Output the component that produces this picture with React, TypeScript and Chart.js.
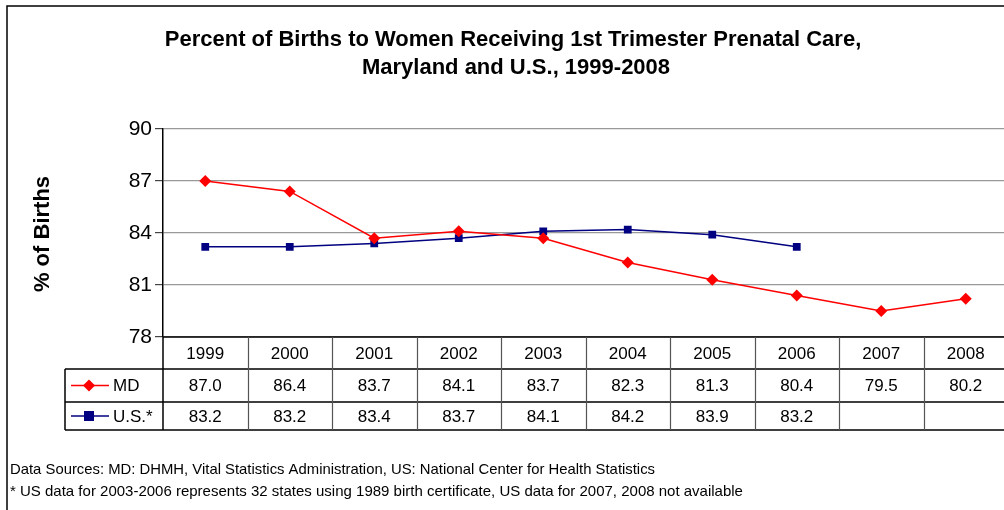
import React, { useEffect, useRef } from "react";
import { Chart, registerables } from "chart.js";

Chart.register(...registerables);

const YEARS = ["1999", "2000", "2001", "2002", "2003", "2004", "2005", "2006", "2007", "2008"];
const MD_VALUES: (number | null)[] = [87.0, 86.4, 83.7, 84.1, 83.7, 82.3, 81.3, 80.4, 79.5, 80.2];
const US_VALUES: (number | null)[] = [83.2, 83.2, 83.4, 83.7, 84.1, 84.2, 83.9, 83.2, null, null];
const SERIES_LABELS = ["MD", "U.S.*"];
const TITLE_LINES = [
  "Percent of Births to Women Receiving 1st Trimester Prenatal Care,",
  "Maryland and U.S., 1999-2008",
];
const Y_TITLE = "% of Births";
const FOOTNOTES = [
  "Data Sources: MD: DHMH, Vital Statistics Administration, US: National Center for Health Statistics",
  "* US data for 2003-2006 represents 32 states using 1989 birth certificate, US data for 2007, 2008 not available",
];
const Y_MIN = 78;
const Y_MAX = 90;
const Y_STEP = 3;

const FONT = "'Liberation Sans', Arial, sans-serif";
const CANVAS_W = 1016;

const tablePlugin = {
  id: "tablePlugin",
  beforeDraw(chart: any) {
    const ctx = chart.ctx as CanvasRenderingContext2D;
    ctx.save();
    ctx.fillStyle = "#ffffff";
    ctx.fillRect(0, 0, chart.width, chart.height);
    ctx.strokeStyle = "#000";
    ctx.lineWidth = 1.5;
    ctx.beginPath();
    ctx.moveTo(7, chart.height);
    ctx.lineTo(7, 6);
    ctx.lineTo(chart.width, 6);
    ctx.stroke();
    ctx.restore();
  },
  afterDraw(chart: any) {
    const ctx = chart.ctx as CanvasRenderingContext2D;
    const area = chart.chartArea;
    const xs = chart.scales.x;
    const n = YEARS.length;
    const colW = (area.right - area.left) / n;
    const top = area.bottom;
    const rowH = [32, 33, 28];
    const r1 = top + rowH[0];
    const r2 = r1 + rowH[1];
    const r3 = r2 + rowH[2];
    const legLeft = 65;
    ctx.save();

    // title
    ctx.fillStyle = "#000";
    ctx.textAlign = "center";
    ctx.textBaseline = "middle";
    ctx.font = `bold 22px ${FONT}`;
    ctx.fillText(TITLE_LINES[0], 513, 40, 697);
    ctx.fillText(TITLE_LINES[1], 516, 68);

    // y title
    ctx.save();
    ctx.translate(43, 234);
    ctx.rotate(-Math.PI / 2);
    ctx.font = `bold 22px ${FONT}`;
    ctx.fillText(Y_TITLE, 0, 0);
    ctx.restore();

    // table lines
    ctx.lineWidth = 1.5;
    ctx.strokeStyle = "#000";
    ctx.beginPath();
    ctx.moveTo(area.left, top);
    ctx.lineTo(chart.width, top);
    ctx.moveTo(legLeft, r1);
    ctx.lineTo(chart.width, r1);
    ctx.moveTo(legLeft, r2);
    ctx.lineTo(chart.width, r2);
    ctx.moveTo(legLeft, r3);
    ctx.lineTo(chart.width, r3);
    ctx.moveTo(legLeft, r1);
    ctx.lineTo(legLeft, r3);
    ctx.moveTo(area.left, top);
    ctx.lineTo(area.left, r3);
    ctx.stroke();

    ctx.strokeStyle = "#555";
    ctx.lineWidth = 1.2;
    ctx.beginPath();
    for (let i = 1; i <= n; i++) {
      const x = Math.round(area.left + colW * i) + 0.5;
      ctx.moveTo(x, top);
      ctx.lineTo(x, r3);
    }
    ctx.stroke();

    // cell text
    ctx.fillStyle = "#000";
    ctx.font = `17px ${FONT}`;
    ctx.textAlign = "center";
    const rowsData = [MD_VALUES, US_VALUES];
    for (let i = 0; i < n; i++) {
      const cx = xs.getPixelForValue(i);
      ctx.fillText(YEARS[i], cx, top + rowH[0] / 2 + 1);
      rowsData.forEach((arr, k) => {
        const v = arr[i];
        if (v == null) return;
        const cy = k === 0 ? r1 + rowH[1] / 2 : r2 + rowH[2] / 2;
        ctx.fillText(v.toFixed(1), cx, cy + 1);
      });
    }

    // legend keys
    const colors = ["#ff0000", "#000080"];
    const keyY = [r1 + rowH[1] / 2, r2 + rowH[2] / 2];
    for (let k = 0; k < 2; k++) {
      const y = keyY[k];
      ctx.strokeStyle = colors[k];
      ctx.lineWidth = 1.5;
      ctx.beginPath();
      ctx.moveTo(71, y);
      ctx.lineTo(109, y);
      ctx.stroke();
      ctx.fillStyle = colors[k];
      if (k === 0) {
        ctx.beginPath();
        ctx.moveTo(89, y - 6);
        ctx.lineTo(95, y);
        ctx.lineTo(89, y + 6);
        ctx.lineTo(83, y);
        ctx.closePath();
        ctx.fill();
      } else {
        ctx.fillRect(84, y - 5, 10, 10);
      }
      ctx.fillStyle = "#000";
      ctx.textAlign = "left";
      ctx.font = `17px ${FONT}`;
      ctx.fillText(SERIES_LABELS[k], 113, y + 1);
    }

    // footnotes
    ctx.font = `15px ${FONT}`;
    ctx.textAlign = "left";
    ctx.fillText(FOOTNOTES[0], 10, 470, 645);
    ctx.fillText(FOOTNOTES[1], 10, 492, 742);
    ctx.restore();
  },
};

export default function App() {
  const ref = useRef<HTMLCanvasElement | null>(null);
  useEffect(() => {
    if (!ref.current) return;
    const chart = new Chart(ref.current, {
      type: "line",
      data: {
        labels: YEARS,
        datasets: [
          {
            label: SERIES_LABELS[0],
            data: MD_VALUES,
            borderColor: "#ff0000",
            backgroundColor: "#ff0000",
            borderWidth: 1.5,
            pointStyle: "rectRot",
            pointRadius: 6,
            pointBorderWidth: 0,
            tension: 0,
          },
          {
            label: SERIES_LABELS[1],
            data: US_VALUES,
            borderColor: "#000080",
            backgroundColor: "#000080",
            borderWidth: 1.5,
            pointStyle: "rect",
            pointRadius: 5.5,
            pointBorderWidth: 0,
            tension: 0,
            spanGaps: false,
          },
        ],
      },
      options: {
        responsive: false,
        animation: false,
        devicePixelRatio: 1,
        layout: { padding: { top: 129, bottom: 173, right: 8, left: 0 } },
        plugins: {
          legend: { display: false },
          title: { display: false },
          tooltip: { enabled: false },
        },
        scales: {
          x: {
            type: "category",
            display: false,
            offset: true,
          },
          y: {
            min: Y_MIN,
            max: Y_MAX,
            afterFit(scale: any) {
              scale.width = 163;
            },
            ticks: {
              stepSize: Y_STEP,
              color: "#000",
              padding: 3,
              font: { family: FONT, size: 21 },
            },
            grid: {
              color: "#999",
              lineWidth: 1.2,
              tickLength: 8,
              tickColor: "#444",
            },
            border: { display: true, color: "#000", width: 1.5 },
          },
        },
      },
      plugins: [tablePlugin],
    });
    return () => chart.destroy();
  }, []);
  return (
    <div style={{ position: "absolute", left: 0, top: 0, width: 1004, height: 510, overflow: "hidden" }}>
      <canvas ref={ref} width={CANVAS_W} height={510} style={{ display: "block" }} />
    </div>
  );
}
